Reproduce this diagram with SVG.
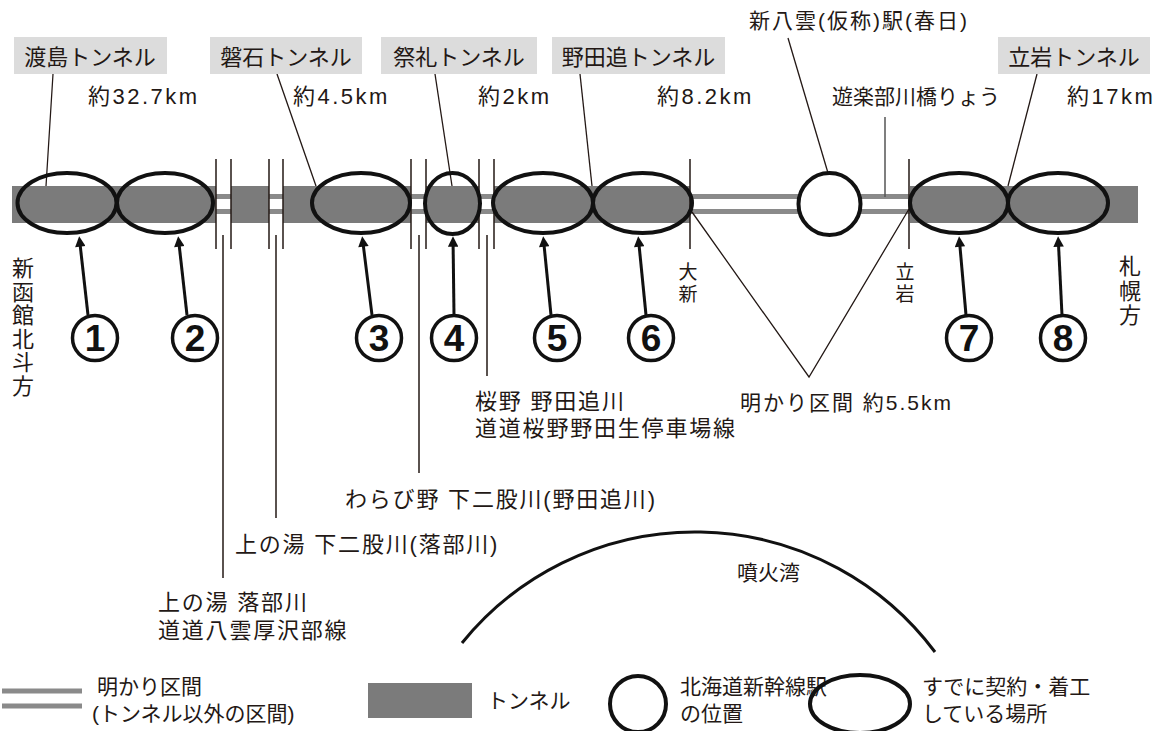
<svg xmlns="http://www.w3.org/2000/svg" width="1166" height="731" viewBox="0 0 1166 731">
<defs>
<style>
.t{font-family:"Liberation Sans","Noto Sans CJK JP",sans-serif;fill:#231815;font-size:21px}
.tb{font-size:22px;text-anchor:middle}
.km{font-size:22px;letter-spacing:2.5px}
.lg{font-size:22px;letter-spacing:1.8px}
.box{fill:#dcdcdc}
.band{fill:#7b7b7b}
.rail{stroke:#8a8a8a;stroke-width:5;fill:none}
.ell{fill:none;stroke:#111;stroke-width:4}
.stn{fill:#fff;stroke:#111;stroke-width:4}
.thin{stroke:#231815;stroke-width:1.3;fill:none}
.gap{stroke:#231815;stroke-width:1.5;fill:none}
.arr{stroke:#111;stroke-width:3;fill:none;marker-end:url(#ah)}
.num{fill:#fff;stroke:#111;stroke-width:3.5}
.nt{font-family:"Liberation Sans",sans-serif;font-weight:bold;font-size:37px;fill:#111;text-anchor:middle}
.vt{text-anchor:middle;font-size:22px}
.vs{text-anchor:middle;font-size:19px}
</style>
<marker id="ah" viewBox="0 0 10 10" refX="2" refY="5" markerWidth="4" markerHeight="3.5" orient="auto" markerUnits="strokeWidth">
<path d="M0,0 L10,5 L0,10 z" fill="#111"/>
</marker>
</defs>
<rect width="1166" height="731" fill="#fff"/>

<g id="track">
<line class="rail" x1="12" y1="196.5" x2="1138" y2="196.5"/>
<line class="rail" x1="12" y1="211.5" x2="1138" y2="211.5"/>
<rect class="band" x="12" y="186" width="204" height="37"/>
<rect class="band" x="231" y="186" width="38" height="37"/>
<rect class="band" x="283" y="186" width="128" height="37"/>
<rect class="band" x="426" y="186" width="53" height="37"/>
<rect class="band" x="494" y="186" width="196" height="37"/>
<rect class="band" x="910" y="186" width="228" height="37"/>
</g>

<g id="connectors">
<line class="gap" x1="216" y1="159" x2="216" y2="249"/>
<line class="gap" x1="231" y1="159" x2="231" y2="249"/>
<line class="gap" x1="269" y1="159" x2="269" y2="249"/>
<line class="gap" x1="283" y1="159" x2="283" y2="249"/>
<line class="gap" x1="411" y1="159" x2="411" y2="249"/>
<line class="gap" x1="426" y1="159" x2="426" y2="249"/>
<line class="gap" x1="479" y1="159" x2="479" y2="249"/>
<line class="gap" x1="494" y1="159" x2="494" y2="249"/>
<line class="gap" x1="690" y1="159" x2="690" y2="249"/>
<line class="gap" x1="909" y1="159" x2="909" y2="249"/>
<line class="gap" x1="223" y1="235" x2="223" y2="578"/>
<line class="gap" x1="276" y1="235" x2="276" y2="518"/>
<line class="gap" x1="419" y1="235" x2="419" y2="473"/>
<line class="gap" x1="487" y1="235" x2="487" y2="376"/>
<line class="thin" x1="53" y1="74" x2="46" y2="186"/>
<line class="thin" x1="277" y1="74" x2="316" y2="186"/>
<line class="thin" x1="435" y1="74" x2="452" y2="186"/>
<line class="thin" x1="580" y1="74" x2="592" y2="186"/>
<line class="thin" x1="1037" y1="74" x2="1008" y2="186"/>
<line class="thin" x1="788" y1="38" x2="828" y2="173"/>
<line x1="885" y1="117" x2="885" y2="197" stroke="#555" stroke-width="1.5"/>
<polyline class="thin" points="692,212 809,377 909,209"/>
<line class="arr" x1="88" y1="315" x2="80.1" y2="244.6"/>
<line class="arr" x1="187" y1="315" x2="179.1" y2="244.6"/>
<line class="arr" x1="372" y1="315" x2="363.2" y2="244.6"/>
<line class="arr" x1="454" y1="315" x2="453.1" y2="244.6"/>
<line class="arr" x1="551" y1="315" x2="544" y2="244.6"/>
<line class="arr" x1="646" y1="315" x2="639" y2="244.6"/>
<line class="arr" x1="966" y1="315" x2="959.8" y2="244.6"/>
<line class="arr" x1="1062" y1="315" x2="1058.5" y2="244.6"/>
</g>

<g id="sections">
<ellipse class="ell" cx="67" cy="203" rx="49.5" ry="30"/>
<ellipse class="ell" cx="165" cy="203" rx="48" ry="30"/>
<ellipse class="ell" cx="361" cy="203" rx="49" ry="30"/>
<ellipse class="ell" cx="452.5" cy="203.5" rx="27.5" ry="30.5"/>
<ellipse class="ell" cx="543" cy="203" rx="50" ry="30"/>
<ellipse class="ell" cx="642.5" cy="203" rx="49.5" ry="30"/>
<ellipse class="ell" cx="959" cy="203" rx="49" ry="30"/>
<ellipse class="ell" cx="1058" cy="203" rx="50" ry="30"/>
</g>

<g id="station">
<circle class="stn" cx="829.5" cy="204" r="31"/>
</g>

<g id="tunnel-labels">
<rect class="box" x="14" y="37" width="153" height="37"/>
<text class="t tb" x="90" y="65">渡島トンネル</text>
<rect class="box" x="210" y="37" width="152" height="37"/>
<text class="t tb" x="286" y="65">磐石トンネル</text>
<rect class="box" x="381" y="37" width="156" height="37"/>
<text class="t tb" x="459" y="65">祭礼トンネル</text>
<rect class="box" x="552" y="37" width="173" height="37"/>
<text class="t tb" x="638.5" y="65">野田追トンネル</text>
<rect class="box" x="998" y="37" width="152" height="37"/>
<text class="t tb" x="1074" y="65">立岩トンネル</text>
<text class="t km" x="88" y="104">約32.7km</text>
<text class="t km" x="293" y="104">約4.5km</text>
<text class="t km" x="478" y="104">約2km</text>
<text class="t km" x="657" y="104">約8.2km</text>
<text class="t km" x="1067" y="104">約17km</text>
<text class="t" x="832" y="104">遊楽部川橋りょう</text>
<text class="t" x="749" y="28" font-size="22" letter-spacing="2">新八雲(仮称)駅(春日)</text>
</g>

<g id="numbers">
<circle class="num" cx="95" cy="338" r="22.5"/><text class="nt" x="95" y="351">1</text>
<circle class="num" cx="195" cy="338" r="22.5"/><text class="nt" x="195" y="351">2</text>
<circle class="num" cx="379" cy="338" r="22.5"/><text class="nt" x="379" y="351">3</text>
<circle class="num" cx="454" cy="338" r="22.5"/><text class="nt" x="454" y="351">4</text>
<circle class="num" cx="557" cy="338" r="22.5"/><text class="nt" x="557" y="351">5</text>
<circle class="num" cx="651" cy="338" r="22.5"/><text class="nt" x="651" y="351">6</text>
<circle class="num" cx="969" cy="338" r="22.5"/><text class="nt" x="969" y="351">7</text>
<circle class="num" cx="1063" cy="338" r="22.5"/><text class="nt" x="1063" y="351">8</text>
</g>

<g id="direction-labels">
<text class="t vt" x="23" y="276"><tspan x="23">新</tspan><tspan x="23" dy="23.5">函</tspan><tspan x="23" dy="23.5">館</tspan><tspan x="23" dy="23.5">北</tspan><tspan x="23" dy="23.5">斗</tspan><tspan x="23" dy="23.5">方</tspan></text>
<text class="t vt" x="1130" y="274"><tspan x="1130">札</tspan><tspan x="1130" dy="24.5">幌</tspan><tspan x="1130" dy="24.5">方</tspan></text>
<text class="t vs" x="688" y="279"><tspan x="688">大</tspan><tspan x="688" dy="22">新</tspan></text>
<text class="t vs" x="905" y="279"><tspan x="905">立</tspan><tspan x="905" dy="22">岩</tspan></text>
</g>

<g id="place-labels">
<text class="t lg" x="475" y="409">桜野 野田追川</text>
<text class="t lg" x="475" y="436">道道桜野野田生停車場線</text>
<text class="t lg" x="345" y="507">わらび野 下二股川(野田追川)</text>
<text class="t lg" x="235" y="552">上の湯 下二股川(落部川)</text>
<text class="t lg" x="158" y="610">上の湯 落部川</text>
<text class="t lg" x="158" y="638">道道八雲厚沢部線</text>
<text class="t" x="740" y="410" font-size="22" letter-spacing="2">明かり区間 約5.5km</text>
</g>

<g id="bay">
<path d="M462,643 A300,300 0 0 1 935,652" fill="none" stroke="#111" stroke-width="3"/>
<text class="t" x="737" y="580">噴火湾</text>
</g>

<g id="legend">
<line class="rail" x1="2" y1="691" x2="82" y2="691"/>
<line class="rail" x1="2" y1="706" x2="82" y2="706"/>
<text class="t" x="97" y="694">明かり区間</text>
<text class="t" x="92" y="721">(トンネル以外の区間)</text>
<rect class="band" x="368" y="683" width="104" height="35"/>
<text class="t" x="487" y="708">トンネル</text>
<circle class="stn" cx="638" cy="704" r="28"/>
<text class="t" x="680" y="694">北海道新幹線駅</text>
<text class="t" x="680" y="721">の位置</text>
<ellipse class="ell" cx="860" cy="704" rx="50" ry="29"/>
<text class="t" x="922" y="694">すでに契約・着工</text>
<text class="t" x="922" y="721">している場所</text>
</g>
</svg>
